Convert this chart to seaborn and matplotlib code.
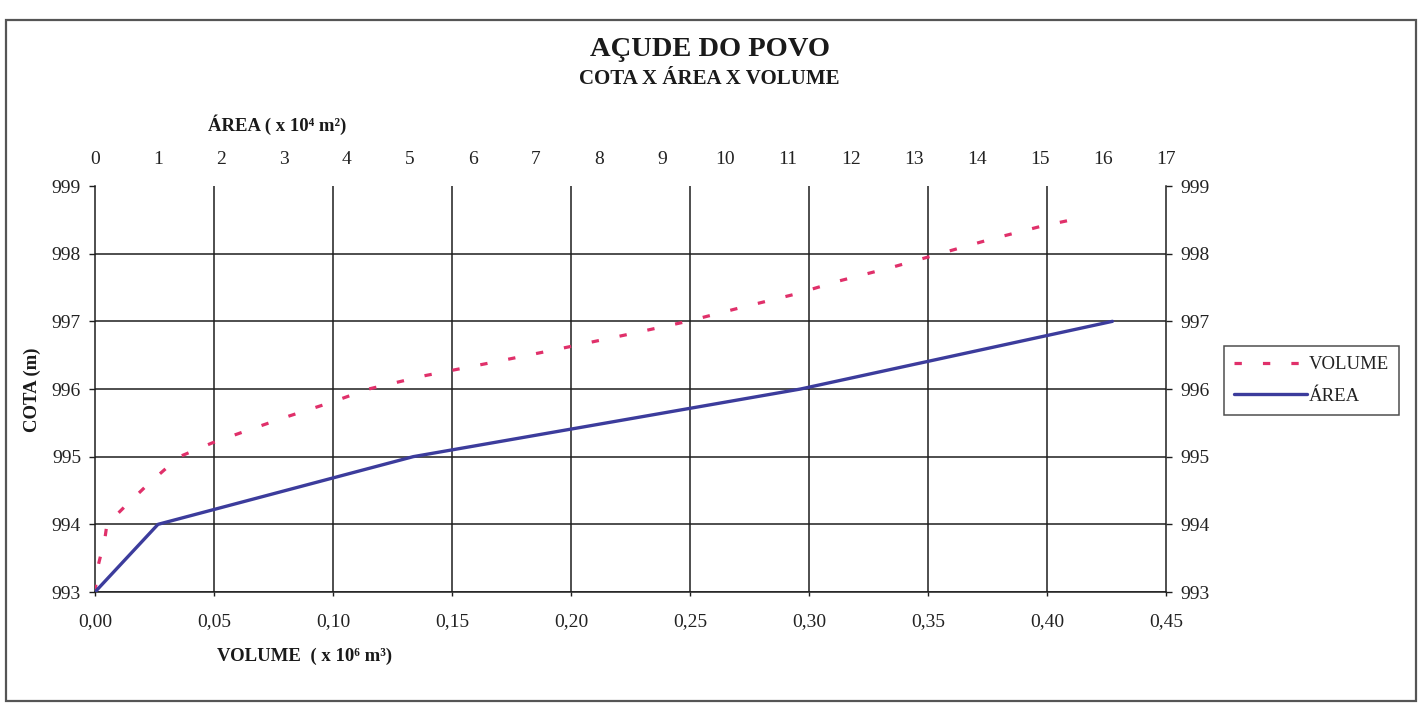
import numpy as np
import pandas as pd
import matplotlib
matplotlib.use("Agg")
import matplotlib.pyplot as plt
import seaborn as sns
from matplotlib.patches import Rectangle
from matplotlib.lines import Line2D

# ---------------- data ----------------
cota_vol = [993.0, 993.4, 993.8, 994.0, 994.3, 994.6, 994.85, 995.0, 995.2, 995.4,
            995.6, 995.8, 996.0, 996.2, 996.4, 996.6, 996.8, 997.0, 997.2, 997.4,
            997.6, 997.8, 998.0, 998.2, 998.4, 998.55]
volume = [0.000, 0.0014, 0.0042, 0.005, 0.0136, 0.0225, 0.0306, 0.0355, 0.049, 0.065,
          0.0815, 0.099, 0.115, 0.139, 0.168, 0.196, 0.223, 0.249, 0.271, 0.294,
          0.313, 0.335, 0.355, 0.375, 0.397, 0.417]

cota_area = [993.0, 994.0, 995.0, 996.0, 997.0]
area = [0.0, 1.0, 5.05, 11.2, 16.15]

vol_ticks = [0.00, 0.05, 0.10, 0.15, 0.20, 0.25, 0.30, 0.35, 0.40, 0.45]
area_ticks = list(range(0, 18))
cota_ticks = [993, 994, 995, 996, 997, 998, 999]

title = "AÇUDE DO POVO"
subtitle = "COTA X ÁREA X VOLUME"
area_label = "ÁREA ( x 10⁴ m²)"
vol_label = "VOLUME  ( x 10⁶ m³)"
cota_label = "COTA (m)"

PINK = "#E0306A"
BLUE = "#3C3C9C"
GRID = "#1e1e1e"

# ---------------- style ----------------
sns.set_theme(style="white")
plt.rcParams["font.family"] = ["Liberation Serif", "DejaVu Serif"]

W, H = 1419, 705
fig = plt.figure(figsize=(W / 100, H / 100), dpi=100)
fig.patch.set_facecolor("white")

L, R, T, B = 95, 1166, 186, 592
ax = fig.add_axes([L / W, 1 - B / H, (R - L) / W, (B - T) / H])
ax.set_facecolor("white")

vol_df = pd.DataFrame({"VOLUME": volume, "COTA": cota_vol})
area_df = pd.DataFrame({"AREA": area, "COTA": cota_area})

sns.lineplot(data=vol_df, x="VOLUME", y="COTA", ax=ax, sort=False,
             color=PINK, linewidth=2.3, legend=False, zorder=5)
vol_line = ax.lines[-1]
vol_line.set_linestyle((0, (2.3, 6.6)))

ax.set_xlim(0, 0.45)
ax.set_ylim(993, 999)
ax.set_xticks(vol_ticks)
ax.set_xticklabels([f"{v:.2f}".replace(".", ",") for v in vol_ticks])
ax.set_yticks(cota_ticks)
ax.set_yticklabels([str(c) for c in cota_ticks])
ax.set_xlabel("")
ax.set_ylabel("")

ax.grid(True, color=GRID, linewidth=1.1)
# no gridline at the top (999) and at the x extremes
ax.yaxis.get_major_ticks()[-1].gridline.set_visible(False)
ax.xaxis.get_major_ticks()[0].gridline.set_visible(False)
ax.xaxis.get_major_ticks()[-1].gridline.set_visible(False)

for s in ["left", "right", "bottom"]:
    ax.spines[s].set_visible(True)
    ax.spines[s].set_color(GRID)
    ax.spines[s].set_linewidth(1.1)
ax.spines["top"].set_visible(False)

ax.tick_params(axis="y", left=True, right=True, labelleft=True, labelright=True,
               direction="out", length=4.5, width=1, color=GRID,
               labelsize=14, pad=5.5, labelcolor="#222222")
ax.tick_params(axis="x", bottom=True, direction="out", length=3, width=1,
               color=GRID, labelsize=14, pad=12, labelcolor="#222222")

# top axis: area
ax2 = ax.twiny()
sns.lineplot(data=area_df, x="AREA", y="COTA", ax=ax2, sort=False,
             color=BLUE, linewidth=2.4, legend=False, zorder=6)
ax2.set_xlim(0, 17)
ax2.set_ylim(993, 999)
ax2.set_xticks(area_ticks)
ax2.set_xticklabels([str(a) for a in area_ticks])
ax2.set_xlabel("")
ax2.set_ylabel("")
ax2.grid(False)
for s in ax2.spines.values():
    s.set_visible(False)
ax2.tick_params(axis="x", top=True, bottom=False, labeltop=True, labelbottom=False,
                length=0, labelsize=14, pad=13, labelcolor="#222222")
ax2.tick_params(axis="y", left=False, right=False, labelleft=False, labelright=False)

# ---------------- texts ----------------
fig.text(710 / W, 1 - 49 / H, title, ha="center", va="center",
         fontsize=20.5, fontweight="bold", color="#1a1a1a")
fig.text(709 / W, 1 - 79 / H, subtitle, ha="center", va="center",
         fontsize=15, fontweight="bold", color="#1a1a1a")
fig.text(277 / W, 1 - 125 / H, area_label, ha="center", va="center",
         fontsize=13.5, fontweight="bold", color="#1a1a1a")
fig.text(305 / W, 1 - 656 / H, vol_label, ha="center", va="center",
         fontsize=13.5, fontweight="bold", color="#1a1a1a")
fig.text(32 / W, 1 - 390 / H, cota_label, ha="center", va="center",
         rotation=90, fontsize=13.5, fontweight="bold", color="#1a1a1a")

# ---------------- legend ----------------
handles = [Line2D([], [], color=PINK, linewidth=2.3, linestyle=(0, (2.3, 6.6))),
           Line2D([], [], color=BLUE, linewidth=2.4)]
leg = fig.legend(handles, ["VOLUME", "ÁREA"], loc="upper left",
                 bbox_to_anchor=(1224 / W, 1 - 346 / H), borderaxespad=0,
                 frameon=True, fancybox=False, edgecolor="#222222",
                 fontsize=13.5, handlelength=3.9, handletextpad=0.05,
                 labelspacing=0.75, borderpad=0.55)
leg.get_frame().set_linewidth(1.1)
for t in leg.get_texts():
    t.set_color("#222222")

# ---------------- outer chart border ----------------
fig.patches.append(Rectangle((6 / W, 1 - 701 / H), (1416 - 6) / W, (701 - 20) / H,
                             transform=fig.transFigure, fill=False,
                             edgecolor="#555555", linewidth=1.6))

fig.savefig("out.png", dpi=100, facecolor="white")
